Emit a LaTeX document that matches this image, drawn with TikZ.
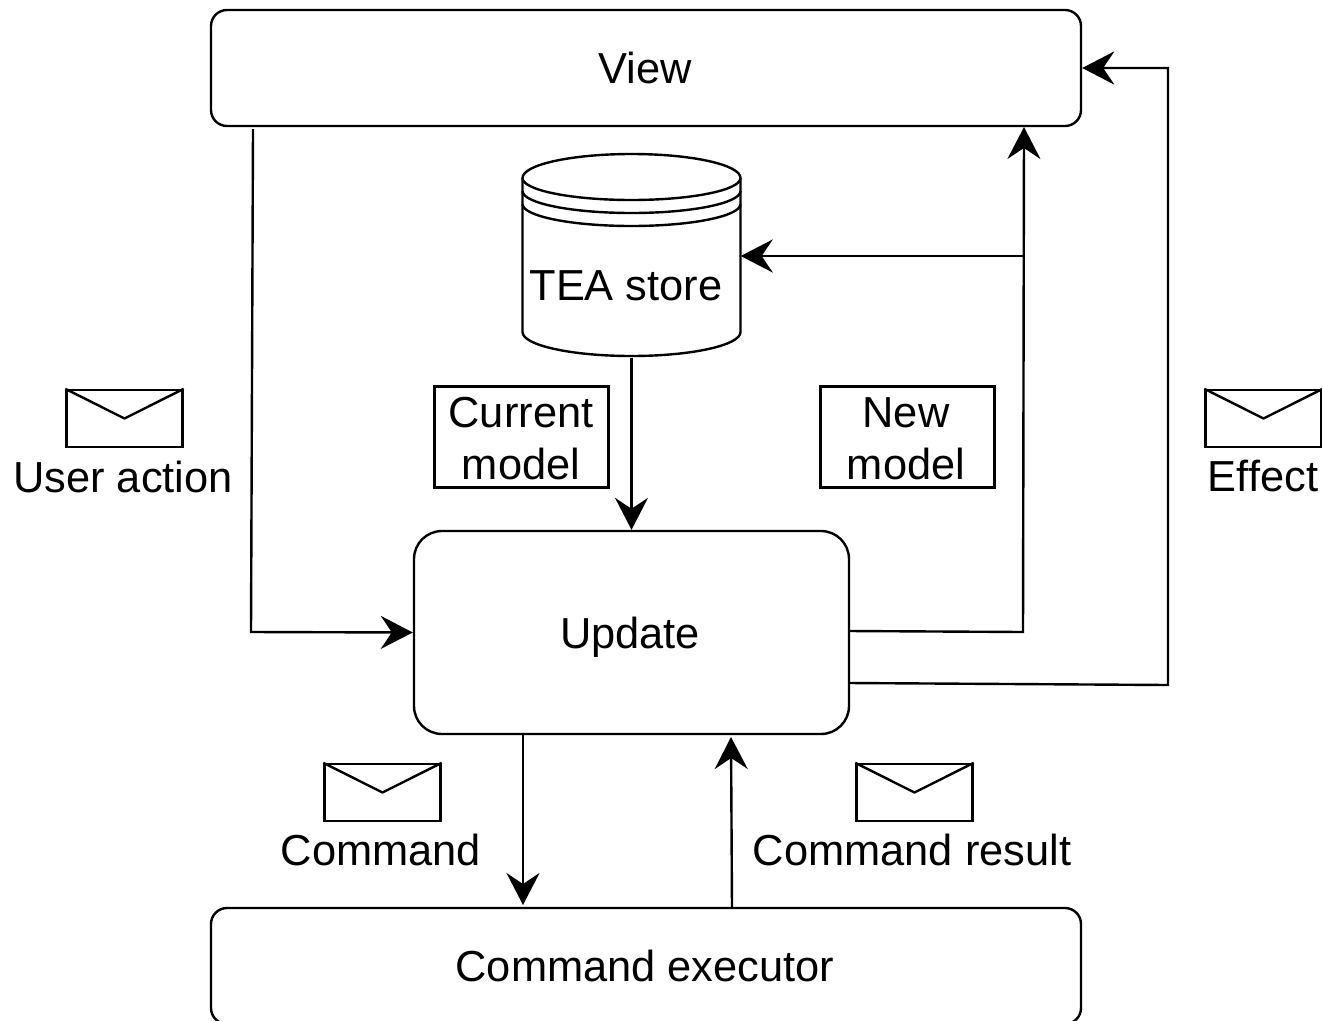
\documentclass[tikz,border=0pt]{standalone}
\usepackage{fontspec}
\setmainfont{Liberation Sans}
\usetikzlibrary{arrows.meta}
\tikzset{
  x=1pt,y=-1pt,
  conn/.style={-{Stealth[length=32pt,width=33pt,inset=11pt]},line width=2.4pt,draw=black},
  rbox/.style={draw=black,line width=2.4pt,rounded corners=16pt,inner sep=0pt},
  mbox/.style={draw=black,line width=2.4pt,inner sep=0pt,minimum width=174pt,minimum height=101pt},
  mtext/.style={inner sep=0pt,font=\fontsize{43.4}{52}\selectfont,align=center},
  lab/.style={inner sep=0pt,font=\fontsize{43.4}{50}\selectfont},
  shapeline/.style={line width=2.4pt,draw=black},
  envbox/.style={draw=black,line width=2.4pt,minimum width=116pt,minimum height=57pt,inner sep=0pt},
}
\newcommand{\envl}[3]{%
  \node[envbox] (#1) at (#2,#3+29) {};
  \draw[shapeline,line join=round] (#1.north west) -- (#2,#3+29) -- (#1.north east);
}
% half ellipse across the store, from left to right: side height, vertical radius (positive = downwards)
\newcommand{\storearc}[2]{%
  (522.5,#1) .. controls (522.5,#1+0.5523*#2) and (571.3,#1+#2) .. (631.5,#1+#2)
  .. controls (691.7,#1+#2) and (740.5,#1+0.5523*#2) .. (740.5,#1)
}
\begin{document}
\begin{tikzpicture}
\useasboundingbox (0,0) rectangle (1322,1020);
\node[rbox,minimum width=870pt,minimum height=116pt] (view) at (646,68) {};
\node[lab] (viewlab) at (645,68) {View};
\node[rbox,minimum width=435pt,minimum height=203pt,rounded corners=28pt] (update) at (631.5,632.5) {};
\node[lab] (updatelab) at (630,637) {Update};
\begin{scope}
\clip (0,0) rectangle (1322,1020);
\node[rbox,minimum width=870pt,minimum height=116pt] (exec) at (646,966) {};
\end{scope}
\node[lab] (execlab) at (645,966) {Command executor};
% store
\node[minimum width=218pt,minimum height=203pt,inner sep=0pt] (store) at (631.5,256) {};
\draw[shapeline] (522.5,178) -- (522.5,332) \storearc{332}{24} -- (740.5,178);
\draw[shapeline] \storearc{178}{-24};
\draw[shapeline] \storearc{178}{22};
\draw[shapeline] \storearc{191}{22};
\draw[shapeline] \storearc{204}{22};
\node[lab] (storelab) at (626,286) {TEA store};
% boxes
\node[mbox] (cur) at (521.5,437) {};
\node[mtext] (curlab) at (521,439) {Current\\model};
\node[mbox] (new) at (907.5,437) {};
\node[mtext] (newlab) at (906,439) {New\\model};
% envelopes
\envl{e1}{124.5}{389.5}
\envl{e2}{1263.5}{389.5}
\envl{e3}{382.5}{763.5}
\envl{e4}{914.5}{763.5}
\node[lab] (l1) at (123,476.5) {User action};
\node[lab] (l2) at (1263,476.5) {Effect};
\node[lab] (l3) at (381,850) {Command};
\node[lab] (l4) at (912,850) {Command result};
% connectors
\coordinate (a1) at (253,129);
\coordinate (a2) at (251,632);
\draw[conn] (a1) -- (a2) -- (update.west);
\draw[conn] (store.south) -- (update.north);
\coordinate (b1) at (849,631);
\coordinate (b2) at (1023,632);
\coordinate (b3) at (1024,127);
\coordinate (b4) at (1024,256);
\draw[conn] (b1) -- (b2) -- (b3);
\draw[conn] (b4) -- (store.east);
\coordinate (c1) at (849,683);
\coordinate (c2) at (1168,685);
\coordinate (c3) at (1168,68);
\draw[conn] (c1) -- (c2) -- (c3) -- (view.east);
\coordinate (d1) at (523,734);
\coordinate (d2) at (523,905);
\draw[conn] (d1) -- (d2);
\coordinate (f1) at (732,908);
\coordinate (f2) at (731,737);
\draw[conn] (f1) -- (f2);
\end{tikzpicture}
\end{document}
